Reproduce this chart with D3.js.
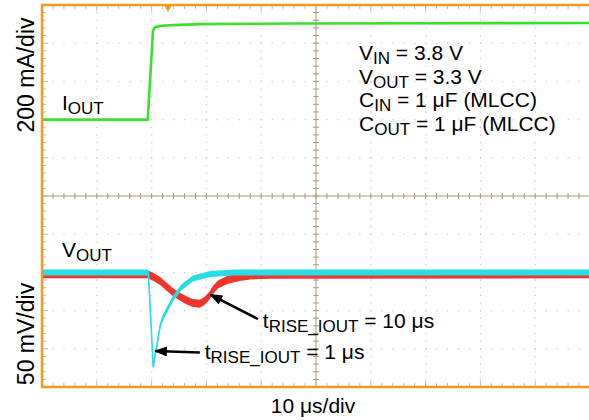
<!DOCTYPE html>
<html><head><meta charset="utf-8">
<script src="https://cdn.jsdelivr.net/npm/d3@7"></script>
<style>body{margin:0;background:#fff;} svg{display:block;font-family:"Liberation Sans",Arial,sans-serif;}</style>
</head><body>
<svg id="chart" width="589" height="420"></svg>
<script>
// ---- data (time in µs, current in mA, voltage deviation in mV) ----
const ioutTime   = [0, 19.3, 20.25, 20.6, 22.4, 25.2, 28.8, 47, 100];
const ioutValues = [0, 0, 465, 485, 493, 496, 500, 503, 506];

const vFastTime   = [0, 19.4, 20.3, 20.6, 21.0, 21.5, 22.0, 22.75, 23.9, 25.5, 27.55, 30.7, 35, 100];
const vFastValues = [0, 0, -124, -110, -95, -72, -60, -50, -34, -19, -8, -2, 0, 0];

const vSlowTime   = [0, 19.3, 20.1, 21.5, 22.8, 23.9, 25.2, 26.5, 27.55, 28.8, 29.7, 30.5, 31.2, 32.1, 33.8, 36.1, 38.0, 41.6, 100];
const vSlowValues = [-2.5, -2.5, -5, -11, -19, -26, -32, -37, -40, -41, -37, -31, -23, -16, -10, -6, -4, -3, -2.5];

const xDomain = [0, 100];          // 10 µs/div
const iDomain = [-1400, 600];      // 200 mA/div
const vDomain = [-150, 350];       // 50 mV/div
const triggerTime = 23;

const conditions = [
  ["V", "IN", " = 3.8 V"],
  ["V", "OUT", " = 3.3 V"],
  ["C", "IN", " = 1 μF (MLCC)"],
  ["C", "OUT", " = 1 μF (MLCC)"]
];
const arrows = [
  {from: [39.4, -61], to: [30.7, -29], text: ["t", "RISE_IOUT", " = 10 μs"], at: [40.3, -73]},
  {from: [28.8, -105], to: [20.6, -103], text: ["t", "RISE_IOUT", " = 1 μs"], at: [29.7, -114]}
];

// ---- layout ----
const L = 42, R = 590, T = 5, B = 387;
const orange = "#f39a1c";
const svg = d3.select("#chart");
const x = d3.scaleLinear().domain(xDomain).range([L, R]);
const yI = d3.scaleLinear().domain(iDomain).range([B, T]);
const yV = d3.scaleLinear().domain(vDomain).range([B, T]);

const defs = svg.append("defs");
defs.append("marker").attr("id", "ah").attr("viewBox", "0 0 13 10")
  .attr("refX", 12).attr("refY", 5).attr("markerWidth", 13).attr("markerHeight", 10)
  .attr("markerUnits", "userSpaceOnUse").attr("orient", "auto")
  .append("path").attr("d", "M0,0 L13,5 L0,10 Z").attr("fill", "#000");

// grid dots
const xMaj = d3.range(xDomain[0], xDomain[1] + 0.001, 10);
const xMin = d3.range(xDomain[0], xDomain[1] + 0.001, 2);
const iMaj = d3.range(iDomain[0], iDomain[1] + 0.001, 200);
const iMin = d3.range(iDomain[0], iDomain[1] + 0.001, 40);
const g = svg.append("g");
const dots = [];
xMaj.slice(1, -1).forEach(t => { if (t !== 50) iMin.forEach(v => dots.push([x(t), yI(v)])); });
iMaj.slice(1, -1).forEach(v => { if (v !== -400) xMin.forEach(t => dots.push([x(t), yI(v)])); });
g.selectAll("rect.d").data(dots).join("rect").attr("class", "d")
  .attr("x", d => d[0] - 0.5).attr("y", d => d[1] - 0.5).attr("width", 1.2).attr("height", 1.2)
  .attr("fill", "#c4c4c4");

// center cross with ticks
const cc = "#a8987e";
const cx = x(50), cy = yI(-400);
g.append("line").attr("x1", L).attr("x2", R).attr("y1", cy).attr("y2", cy).attr("stroke", cc).attr("stroke-width", 1);
g.append("line").attr("x1", cx).attr("x2", cx).attr("y1", T).attr("y2", B).attr("stroke", cc).attr("stroke-width", 1);
g.selectAll("line.tx").data(xMin).join("line").attr("class", "tx")
  .attr("x1", d => x(d)).attr("x2", d => x(d)).attr("y1", cy - 3).attr("y2", cy + 3).attr("stroke", cc);
g.selectAll("line.ty").data(iMin).join("line").attr("class", "ty")
  .attr("y1", d => yI(d)).attr("y2", d => yI(d)).attr("x1", cx - 3).attr("x2", cx + 3).attr("stroke", cc);
// border ticks
const bt = "#b8b8b8";
g.selectAll("line.bt").data(xMin).join("line").attr("class", "bt")
  .attr("x1", d => x(d)).attr("x2", d => x(d)).attr("y1", T).attr("y2", d => T + (d % 10 === 0 ? 6 : 4)).attr("stroke", bt);
g.selectAll("line.bb").data(xMin).join("line").attr("class", "bb")
  .attr("x1", d => x(d)).attr("x2", d => x(d)).attr("y1", B).attr("y2", d => B - (d % 10 === 0 ? 6 : 4)).attr("stroke", bt);
g.selectAll("line.bl").data(iMin).join("line").attr("class", "bl")
  .attr("y1", d => yI(d)).attr("y2", d => yI(d)).attr("x1", L).attr("x2", d => L + (d % 200 === 0 ? 6 : 4)).attr("stroke", bt);

// traces (drawn as bands: trace thickness is a style)
function band(half) {
  return d3.area().x(d => x(d[0])).y0(d => yV(d[1]) + half).y1(d => yV(d[1]) - half);
}
const lineI = d3.line().x(d => x(d[0])).y(d => yI(d[1]));
const lineV = d3.line().x(d => x(d[0])).y(d => yV(d[1]));
const red = "#f0352c", cyan = "#28dce8";
const slow = d3.zip(vSlowTime, vSlowValues), fast = d3.zip(vFastTime, vFastValues);
svg.append("path").datum(slow).attr("d", band(4)).attr("fill", red);
svg.append("path").datum(slow).attr("d", lineV).attr("fill", "none").attr("stroke", red).attr("stroke-width", 1.5);
svg.append("path").datum(fast).attr("d", band(3)).attr("fill", cyan);
svg.append("path").datum(fast).attr("d", lineV).attr("fill", "none").attr("stroke", cyan).attr("stroke-width", 1.6);
svg.append("path").datum(d3.zip(ioutTime, ioutValues)).attr("d", lineI)
  .attr("fill", "none").attr("stroke", "#3ede2e").attr("stroke-width", 2.6).attr("stroke-linejoin", "round");

// border
svg.append("path").attr("d", `M${L},${B} L${R},${B} M${L},${B + 1.25} L${L},${T} L${R},${T}`)
  .attr("fill", "none").attr("stroke", orange).attr("stroke-width", 2.5);
// trigger marker
const tx = x(triggerTime);
svg.append("path").attr("d", `M${tx - 4},${T} L${tx + 4},${T} L${tx},${T + 7} Z`).attr("fill", orange);

// text helper
const F = 21, S = 17;
function sub(sel, parts) {
  sel.append("tspan").text(parts[0]);
  sel.append("tspan").attr("font-size", S).attr("dy", 4).text(parts[1]);
  sel.append("tspan").attr("dy", -4).text(parts[2]);
}
const txt = svg.append("g").attr("fill", "#000").attr("font-size", F);
sub(txt.append("text").attr("x", 62).attr("y", 110), ["I", "OUT", ""]);
sub(txt.append("text").attr("x", 62).attr("y", 257), ["V", "OUT", ""]);
conditions.forEach((c, i) => sub(txt.append("text").attr("x", 359).attr("y", 60 + i * 23.7), c));

arrows.forEach(a => {
  svg.append("line").attr("x1", x(a.from[0])).attr("y1", yV(a.from[1]))
    .attr("x2", x(a.to[0])).attr("y2", yV(a.to[1]))
    .attr("stroke", "#000").attr("stroke-width", 2.5).attr("marker-end", "url(#ah)");
  sub(txt.append("text").attr("x", x(a.at[0])).attr("y", yV(a.at[1])), a.text);
});

// axis labels
txt.append("text").attr("x", 313).attr("y", 413).attr("text-anchor", "middle").text("10 μs/div");
txt.append("text").attr("transform", "translate(34,75) rotate(-90)").attr("text-anchor", "middle").attr("font-size", 23).text("200 mA/div");
txt.append("text").attr("transform", "translate(34,334) rotate(-90)").attr("text-anchor", "middle").attr("font-size", 23).text("50 mV/div");
</script>
</body></html>
